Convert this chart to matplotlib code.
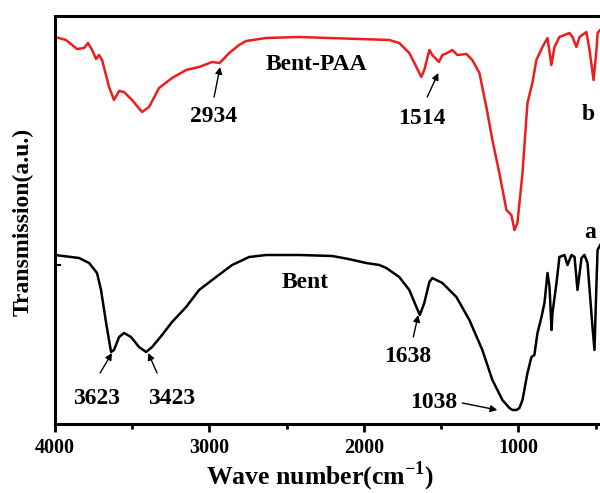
import numpy as np
import matplotlib
matplotlib.use('Agg')
import matplotlib.pyplot as plt

# Spectra (wavenumber in cm-1, transmission in a.u.)
bent_wn = [4000, 3844, 3779, 3728, 3702, 3669, 3637, 3618, 3585, 3553, 3508, 3456,
           3410, 3371, 3307, 3242, 3151, 3067, 2957, 2853, 2743, 2633, 2419, 2205,
           2100, 1985, 1900, 1855, 1771, 1706, 1660, 1638, 1609, 1576, 1557, 1492,
           1401, 1317, 1233, 1168, 1103, 1058, 1038, 1012, 993, 973, 941, 915, 896,
           876, 850, 831, 811, 798, 785, 779, 753, 734, 701, 682, 656, 636, 617,
           591, 572, 552, 520, 507, 494, 487, 470]
bent_t = [169, 166, 161, 151, 134, 101, 72, 74, 87, 91, 87, 77,
          72, 77, 89, 102, 117, 134, 147, 159, 167, 169, 169, 168,
          165, 161, 159, 156, 147, 134, 117, 109, 121, 142, 146, 141,
          127, 104, 74, 44, 24, 16, 14, 14, 16, 24, 51, 67, 69,
          91, 107, 121, 151, 137, 94, 111, 141, 167, 169, 159, 169, 167, 134,
          166, 169, 161, 97, 74, 141, 174, 179]

paa_wn = [4000, 3929, 3857, 3812, 3786, 3760, 3734, 3715, 3695, 3650, 3618, 3585,
          3553, 3501, 3436, 3391, 3326, 3242, 3151, 3067, 2983, 2934, 2872, 2808,
          2762, 2633, 2419, 1835, 1771, 1706, 1673, 1628, 1609, 1576, 1557, 1514,
          1492, 1460, 1427, 1395, 1336, 1298, 1252, 1207, 1168, 1123, 1077, 1045,
          1025, 1006, 973, 941, 909, 883, 844, 811, 786, 766, 734, 669, 649, 624,
          604, 559, 539, 513, 494, 487, 470]
paa_t = [387, 384, 375, 376, 381, 374, 365, 369, 364, 337, 324, 333,
         332, 324, 312, 317, 336, 346, 354, 357, 362, 361, 371, 379,
         383, 386, 387, 384, 381, 371, 361, 347, 354, 374, 369, 362,
         369, 371, 374, 369, 370, 364, 351, 317, 284, 251, 214, 209,
         194, 201, 251, 321, 341, 364, 377, 386, 359, 377, 387, 391, 387, 377,
         387, 392, 374, 344, 374, 391, 394]

# peak labels: text, text pos, arrow tail, arrow head
peaks = [
    ('2934', (2976, 307), (2970, 327), (2931, 357)),
    ('1514', (1622, 306), (1590, 327), (1518, 351)),
    ('3623', (3728, 26), (3708, 51), (3631, 71)),
    ('3423', (3242, 26), (3339, 51), (3397, 71)),
    ('1638', (1719, 67), (1680, 87), (1648, 109)),
    ('1038', (1551, 21), (1363, 21), (1136, 14)),
]

plt.rcParams['font.family'] = 'Liberation Serif'
plt.rcParams['font.weight'] = 'bold'
plt.rcParams['mathtext.fontset'] = 'custom'
plt.rcParams['mathtext.rm'] = 'Liberation Serif:bold'
plt.rcParams['mathtext.bf'] = 'Liberation Serif:bold'

fig = plt.figure(figsize=(6, 4.93), dpi=100)
ax = fig.add_axes([55 / 600, 69 / 493, 556 / 600, 408 / 493])

ax.plot(bent_wn, bent_t, color='black', lw=1.8)
ax.plot(paa_wn, paa_t, color='#ee1c1c', lw=1.8)

ax.set_xlim(4000, 400)
ax.set_ylim(0, 408)

for s in ax.spines.values():
    s.set_linewidth(2.2)

ax.set_xticks([4000, 3000, 2000, 1000])
ax.set_xticks([3500, 2500, 1500, 500], minor=True)
ax.tick_params(axis='x', which='major', direction='out', length=6, width=2,
               labelsize=14.5, pad=4)
ax.tick_params(axis='x', which='minor', direction='out', length=3.5, width=2)
ax.set_yticks([159])
ax.set_yticklabels([])
ax.tick_params(axis='y', direction='in', length=4, width=1.5)

for lab, txt, tail, head in peaks:
    ax.text(txt[0], txt[1], lab, fontsize=17, fontweight='bold',
            ha='center', va='center')
    ax.annotate('', xy=head, xytext=tail,
                arrowprops=dict(arrowstyle='-|>', color='black', lw=1,
                                mutation_scale=10, shrinkA=0, shrinkB=0))

ax.text(2309, 359, 'Bent-PAA', fontsize=17, fontweight='bold', ha='center', va='center')
ax.text(2380, 142, 'Bent', fontsize=17, fontweight='bold', ha='center', va='center')
ax.text(533, 192, 'a', fontsize=17, fontweight='bold', ha='center', va='center')
ax.text(546, 309, 'b', fontsize=17, fontweight='bold', ha='center', va='center')

ax.set_xlabel(r'Wave number(cm$^{-1}$)', fontsize=18.5, fontweight='bold', va='center')
ax.xaxis.set_label_coords(0.4766, -0.128)
ax.set_ylabel('Transmission(a.u.)', fontsize=17, fontweight='bold', va='center')
ax.yaxis.set_label_coords(-0.0576, 0.495)

fig.savefig('out.png', dpi=100)
